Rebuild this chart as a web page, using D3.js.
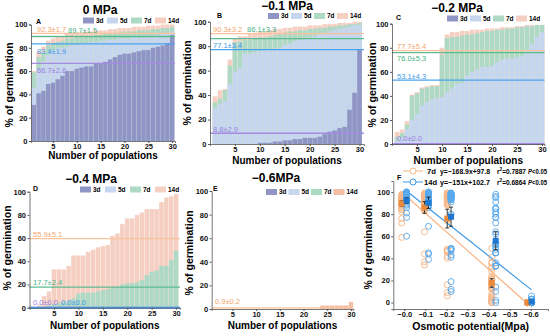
<!DOCTYPE html>
<html>
<head>
<meta charset="utf-8">
<script src="https://cdn.jsdelivr.net/npm/d3@7"></script>
<style>
body { margin: 0; background: #fff; }
text { font-family: "Liberation Sans", Arial, sans-serif; }
</style>
</head>
<body>
<svg id="chart" width="550" height="336"></svg>
<script>
// germination days (cumulative)
var days = ["3d", "5d", "7d", "14d"];
var pops = d3.range(1, 31);

// 0 MPa
var a3  = [31,41,43,49,50,53,56,60,60,62,63,64,64,67,67,68,70,72,74,75,75,76,77,78,78,80,81,82,84,91];
var a5  = [46,62,68,74,78,80,80,81,82,83,84,84,85,85,86,86,87,87,88,88,88,89,89,89,90,90,91,92,92,94];
var a7  = [59,72,76,82,84,85,86,88,88,89,89,90,90,91,91,92,92,93,93,94,94,94,95,95,95,96,96,97,97,98];
var a14 = [60,77,81,86,88,89,90,92,92,93,93,94,94,95,95,95,96,96,97,97,97,98,98,98,99,99,99,100,100,100];
// -0.1 MPa
var b3  = [0,0,0,0,0,0,0,0,0,1,1,1,2,2,3,3,4,4,5,5,5,6,8,10,11,13,14,28,42,77];
var b5  = [29,33,35,49,59,62,74,74,75,76,77,77,78,79,81,82,84,85,86,87,88,90,91,92,93,94,95,96,97,97];
var b7  = [34,37,44,64,83,84,85,85,86,87,87,88,89,90,91,92,92,93,93,94,94,95,95,96,96,97,97,98,98,99];
var b14 = [39,44,45,69,86,88,88,90,91,92,92,93,94,94,95,95,96,96,96,97,97,97,98,98,98,99,99,99,100,100];
// -0.2 MPa
var c3  = [0,0,0,0,0,0,0,0,0,0,0,0,0,0,0,0,0,0,0,0,0,0,0,0,0,0,0,0,0,0];
var c5  = [3,5,12,20,25,32,35,37,38,39,43,46,50,51,57,60,62,64,64,65,68,70,71,71,72,73,78,83,89,93];
var c7  = [6,9,16,40,42,46,47,48,48,74,88,89,89,90,91,91,92,93,94,94,95,95,96,96,97,97,98,98,99,99];
var c14 = [10,12,19,41,43,47,48,49,49,80,91,93,93,94,94,95,95,95,96,96,96,97,97,97,98,98,99,99,99,99];
// -0.4 MPa
var d3v = [0,0,0,0,0,0,0,0,0,0,0,0,0,0,0,0,0,0,0,0,0,0,0,0,0,0,0,0,0,0];
var d5  = [0,0,0,0,0,0,0,0,0,0,0,0,0,0,0,0,0,0,0,0,0,0,0,0,0,0,0,0,0,0];
var d7  = [0,0,1,2,3,4,5,6,8,12,13,13,13,14,15,16,17,18,20,21,21,22,24,28,31,32,36,36,41,49];
var d14 = [0,2,10,14,33,33,33,36,45,45,45,48,50,52,53,54,62,64,72,77,77,80,82,85,85,85,91,95,96,98];
// -0.6 MPa
var e0  = [0,0,0,0,0,0,0,0,0,0,0,0,0,0,0,0,0,0,0,0,0,0,0,0,0,0,0,0,0,0];
var e14 = [0,0,0,0,0,0,0,0,0,0,0,0,0,0,0,0,0,0,0,0,0,0,0,3,3,3,3,3,3,6];

// mean lines (3d,5d,7d,14d) and their labels
var meanA = [66.7, 83.4, 89.7, 92.3];
var meanB = [8.8, 77.1, 86.1, 90.3];
var meanC = [0.0, 53.1, 76.0, 77.7];
var meanD = [0.0, 0.0, 17.7, 59.5];
var meanE = [null, null, null, 0.9];
var labA = ["66.7±2.6", "83.4±1.9", "89.7±1.5", "92.3±1.7"];
var labB = ["8.8±2.9", "77.1±3.4", "86.1±3.3", "90.3±3.2"];
var labC = ["0.0±0.0", "53.1±4.3", "76.0±5.3", "77.7±5.4"];
var labD = ["0.0±0.0", "0.0±0.0", "17.7±2.4", "55.9±5.1"];
var labE = [null, null, null, "0.9±0.2"];

// panel F: osmotic potential vs final germination
var potential = [0.0, 0.1, 0.2, 0.4, 0.6];
var pos7  = [-0.012, 0.096, 0.204, 0.415, 0.585];
var pos14 = [0.011, 0.115, 0.222, 0.434, 0.604];
var mean7  = [89.7, 86.1, 76.0, 17.7, 0.0];
var err7   = [1.5, 3.3, 5.3, 2.4, 0.0];
var mean14 = [92.3, 90.3, 77.7, 55.9, 0.9];
var err14  = [1.7, 3.2, 5.4, 5.1, 0.2];
var fit7  = [-168.9, 97.8];
var fit14 = [-151, 102.7];

var fills  = ["#8f95c4", "#c7d6ef", "#aed9c5", "#f4cfc2"];
var lines  = ["#a58ae2", "#4aa3ee", "#5dbb91", "#f8c29a"];
var labCol = ["#9a7fe0", "#3d9be9", "#45b385", "#f4a56b"];

var svg = d3.select("#chart");

var panels = [
    {letter: "A", title: "0 MPa", data: [a3, a5, a7, a14], mean: meanA, lab: labA,
     xr: [31, 175], dom: [0.4, 30.6], yr: [141, 24.5], tx: 100, ty: 13.5, lx: 83, ly: 20.5, step: 24,
     letXY: [36, 24], ylx: 9, yly: 85, xly: 159, fills: fills,
     labPos: [[37, 9.5], [37, 10], [68, -3.5], [37, -1]]},
    {letter: "B", title: "\u22120.1 MPa", data: [b3, b5, b7, b14], mean: meanB, lab: labB,
     xr: [210, 364], dom: [0, 30.9], yr: [144, 21.7], tx: 287, ty: 10, lx: 268, ly: 16, step: 23,
     letXY: [217, 18], ylx: 187, yly: 83, xly: 164, fills: fills,
     labPos: [[213, -1.5], [213, -1.5], [247, -6.5], [213, -1.5]]},
    {letter: "C", title: "\u22120.2 MPa", data: [c3, c5, c7, c14], mean: meanC, lab: labC,
     xr: [392, 544.5], dom: [0, 30.5], yr: [144, 23.7], tx: 457, ty: 12, lx: 447, ly: 18.5, step: 23,
     letXY: [396, 20], ylx: 372, yly: 85, xly: 164, fills: fills,
     labPos: [[397, -3], [397, -1.5], [397, 8], [397, -1.5]]},
    {letter: "D", title: "\u22120.4 MPa", data: [d3v, d5, d7, d14], mean: meanD, lab: labD,
     xr: [29.5, 180], dom: [0, 30.8], yr: [307.7, 191.7], tx: 91, ty: 183, lx: 80, ly: 189.5, step: 25,
     letXY: [33, 191], ylx: 7, yly: 248, xly: 329, fills: fills,
     labPos: [[33, -3], [61, -3], [33, -2], [33, -2]]},
    {letter: "E", title: "\u22120.6MPa", data: [e0, e0, e0, e14], mean: meanE, lab: labE,
     xr: [211.7, 353.3], dom: [0.65, 30.5], yr: [309, 191], tx: 276, ty: 182, lx: 266, ly: 192, step: 22.5,
     letXY: [213, 191], ylx: 189, yly: 253, xly: 329,
     fills: ["#8f95c4", "#c7d6ef", "#aed9c5", "#f2bea5"],
     labPos: [null, null, null, [215, -4]]}
];

function styleAxis(a){
    a.select(".domain").attr("stroke", "#555").attr("stroke-width", 0.8);
    a.selectAll(".tick line").attr("stroke", "#555");
    a.selectAll("text").attr("font-size", 7.5).attr("font-weight", "bold")
        .attr("font-family", "Liberation Sans, Arial, sans-serif").attr("fill", "#111");
}

function drawPanel(p){
    var x = d3.scaleLinear().domain(p.dom).range(p.xr);
    var y = d3.scaleLinear().domain([0, 100]).range(p.yr);
    var bw = (x(2) - x(1)) * 0.92;
    var g = svg.append("g");

    // bars: later days drawn first so earlier days sit in front
    for(var k = 3; k >= 0; k--){
        g.selectAll(null)
            .data(p.data[k])
            .enter().append("rect")
            .attr("x", function(d, i){ return x(pops[i]) - bw / 2; })
            .attr("width", bw)
            .attr("y", function(d){ return y(d); })
            .attr("height", function(d){ return y(0) - y(d); })
            .attr("fill", p.fills[k]);
    }

    // mean lines
    for(var k = 0; k < 4; k++){
        if(p.mean[k] === null) continue;
        g.append("line")
            .attr("x1", p.xr[0]).attr("x2", p.xr[1])
            .attr("y1", y(p.mean[k])).attr("y2", y(p.mean[k]))
            .attr("stroke", lines[k])
            .attr("stroke-width", p.mean[k] === 0 ? 2 : 1.3);
    }
    for(var k = 0; k < 4; k++){
        if(!p.lab[k]) continue;
        g.append("text")
            .attr("x", p.labPos[k][0])
            .attr("y", y(p.mean[k]) + p.labPos[k][1])
            .attr("font-size", 7.5)
            .attr("fill", labCol[k])
            .text(p.lab[k]);
    }

    // axes
    var xAxis = d3.axisBottom(x).tickValues([5, 10, 15, 20, 25, 30]).tickSize(2).tickPadding(0.5);
    var yAxis = d3.axisLeft(y).tickValues([0, 20, 40, 60, 80, 100]).tickSize(2).tickPadding(1.5);
    styleAxis(g.append("g").attr("transform", "translate(0," + p.yr[0] + ")").call(xAxis));
    styleAxis(g.append("g").attr("transform", "translate(" + p.xr[0] + ",0)").call(yAxis));

    // titles
    g.append("text").attr("x", p.tx).attr("y", p.ty).attr("text-anchor", "middle")
        .attr("font-size", 12).attr("font-weight", "bold").text(p.title);
    g.append("text").attr("x", p.letXY[0]).attr("y", p.letXY[1])
        .attr("font-size", 7).attr("font-weight", "bold").text(p.letter);
    g.append("text").attr("x", (p.xr[0] + p.xr[1]) / 2).attr("y", p.xly).attr("text-anchor", "middle")
        .attr("font-size", 10).attr("font-weight", "bold").text("Number of populations");
    g.append("text").attr("transform", "translate(" + p.ylx + "," + p.yly + ") rotate(-90)")
        .attr("text-anchor", "middle").attr("dy", "0.35em")
        .attr("font-size", 10.5).attr("font-weight", "bold").text("% of germination");

    // legend
    days.forEach(function(dname, k){
        var lx = p.lx + k * p.step;
        g.append("rect").attr("x", lx).attr("y", p.ly - 3).attr("width", 11).attr("height", 6)
            .attr("fill", p.fills[k]);
        g.append("text").attr("x", lx + 13).attr("y", p.ly + 2.3)
            .attr("font-size", 6.5).attr("font-weight", "bold").text(dname);
    });
}

panels.forEach(drawPanel);

// Panel F
(function(){
    var xr = [393.3, 548], yr = [309, 181];
    var x = d3.scaleLinear().domain([-0.052, 0.682]).range(xr);
    var y = d3.scaleLinear().domain([-5.8, 110]).range(yr);
    var g = svg.append("g");
    var ser7  = [a7, b7, c7, d7, e0];
    var ser14 = [a14, b14, c14, d14, e14];

    // regression lines
    var line = d3.line().x(function(d){ return x(d[0]); }).y(function(d){ return y(d[1]); });
    g.append("path").datum([pos7[0], pos7[4]].map(function(m){ return [m, fit7[0] * m + fit7[1]]; }))
        .attr("d", line).attr("stroke", "#f7b585").attr("stroke-width", 1.2).attr("fill", "none");
    g.append("path").datum([pos14[0], pos14[4]].map(function(m){ return [m, fit14[0] * m + fit14[1]]; }))
        .attr("d", line).attr("stroke", "#3d98e6").attr("stroke-width", 1.2).attr("fill", "none");

    // open circles, one per population
    potential.forEach(function(pv, j){
        g.selectAll(null).data(ser7[j]).enter().append("circle")
            .attr("cx", x(pos7[j])).attr("cy", function(d){ return y(d); }).attr("r", 3)
            .attr("fill", "none").attr("stroke", "#f7b585").attr("stroke-width", 0.9);
        g.selectAll(null).data(ser14[j]).enter().append("circle")
            .attr("cx", x(pos14[j])).attr("cy", function(d){ return y(d); }).attr("r", 3)
            .attr("fill", "none").attr("stroke", "#58a8ec").attr("stroke-width", 0.9);
    });

    // means with error bars
    function meanMarks(pos, m, e, col){
        potential.forEach(function(pv, j){
            var cx = x(pos[j]);
            var lo = m[j] - e[j] * 1.6, hi = m[j] + e[j] * 1.6;
            g.append("line").attr("x1", cx).attr("x2", cx).attr("y1", y(lo)).attr("y2", y(hi))
                .attr("stroke", "#222").attr("stroke-width", 0.9);
            [lo, hi].forEach(function(v){
                g.append("line").attr("x1", cx - 2).attr("x2", cx + 2).attr("y1", y(v)).attr("y2", y(v))
                    .attr("stroke", "#222").attr("stroke-width", 0.9);
            });
            g.append("rect").attr("x", cx - 3).attr("y", y(m[j]) - 3).attr("width", 6).attr("height", 6)
                .attr("fill", col);
        });
    }
    meanMarks(pos7, mean7, err7, "#ea8a3c");
    meanMarks(pos14, mean14, err14, "#1f78cf");

    // axes
    var xAxis = d3.axisBottom(x).tickValues([0, 0.1, 0.2, 0.3, 0.4, 0.5, 0.6]).tickSize(2).tickPadding(1)
        .tickFormat(function(d){ return "\u2212" + d.toFixed(1); });
    var yAxis = d3.axisLeft(y).tickValues([0, 20, 40, 60, 80, 100]).tickSize(2).tickPadding(1.5);
    styleAxis(g.append("g").attr("transform", "translate(0," + yr[0] + ")").call(xAxis));
    styleAxis(g.append("g").attr("transform", "translate(" + xr[0] + ",0)").call(yAxis));

    g.append("text").attr("x", 397).attr("y", 180).attr("font-size", 7).attr("font-weight", "bold").text("F");
    g.append("text").attr("x", (xr[0] + xr[1]) / 2).attr("y", 330).attr("text-anchor", "middle")
        .attr("font-size", 10.5).attr("font-weight", "bold").text("Osmotic potential(Mpa)");
    g.append("text").attr("transform", "translate(368,247) rotate(-90)")
        .attr("text-anchor", "middle").attr("dy", "0.35em")
        .attr("font-size", 10.5).attr("font-weight", "bold").text("% of germination");

    // legend with fitted equations
    var leg = [
        {name: "7d", col: "#f7b585", eq: "y=\u2212168.9x+97.8", r2: "0.7887", y: 171},
        {name: "14d", col: "#3d98e6", eq: "y=\u2212151x+102.7", r2: "0.6864", y: 182}
    ];
    leg.forEach(function(l){
        g.append("line").attr("x1", 403).attr("x2", 423).attr("y1", l.y).attr("y2", l.y)
            .attr("stroke", l.col).attr("stroke-width", 1);
        g.append("circle").attr("cx", 413).attr("cy", l.y).attr("r", 3)
            .attr("fill", "#fff").attr("stroke", l.col).attr("stroke-width", 1);
        function part(x0, len){
            return g.append("text").attr("x", x0).attr("y", l.y + 2.5)
                .attr("font-size", 7).attr("font-weight", "bold")
                .attr("textLength", len).attr("lengthAdjust", "spacingAndGlyphs");
        }
        part(l.name === "7d" ? 427 : 424, l.name === "7d" ? 9 : 13).text(l.name);
        part(440, l.eq.length > 14 ? 55 : 50).text(l.eq);
        var r = part(497, 29);
        r.append("tspan").text("r");
        r.append("tspan").attr("dy", -2.5).attr("font-size", 5).text("2");
        r.append("tspan").attr("dy", 2.5).text("=" + l.r2);
        var pp = part(528, 19);
        pp.append("tspan").attr("font-style", "italic").text("P");
        pp.append("tspan").text("<0.05");
    });
})();
</script>
</body>
</html>
